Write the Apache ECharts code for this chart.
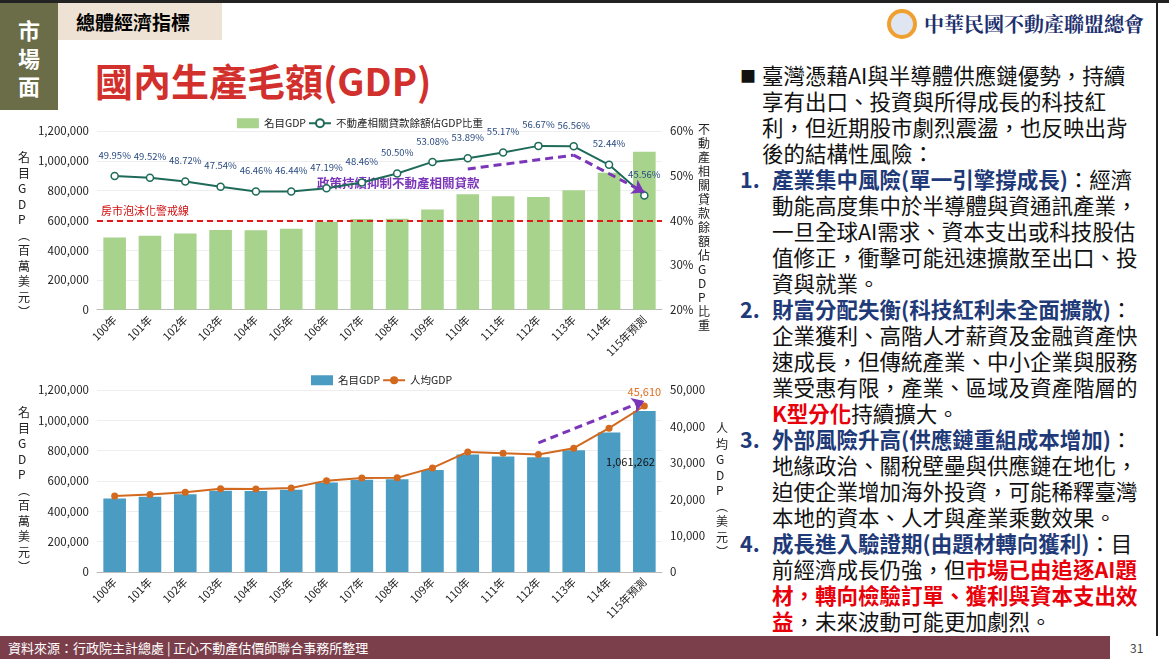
<!DOCTYPE html>
<html><head><meta charset="utf-8">
<script src="https://cdn.jsdelivr.net/npm/echarts@6/dist/echarts.min.js"></script>
<style>
body{margin:0;width:1169px;height:659px;position:relative;overflow:hidden;background:#fff;font-family:"Noto Sans CJK TC","Noto Sans",sans-serif;}
.abs{position:absolute;}
#c1{left:0;top:110px;width:720px;height:250px;}
#c2{left:0;top:365px;width:736px;height:270px;}
.rt{left:740px;top:62px;width:418px;font-size:21.5px;line-height:26px;color:#111;white-space:nowrap}
.item{display:flex;}
.num{width:32px;flex:none;font-weight:bold;color:#1f3a78;}
.hd{font-weight:bold;color:#1f3a78;}
.red{color:#e8000b;font-weight:bold;}
</style></head><body>
<div class="abs" style="left:0;top:0;width:1169px;height:3px;background:#222"></div>
<div class="abs" style="left:1156px;top:0;width:2px;height:636px;background:#222"></div>
<div class="abs" style="left:0;top:3px;width:58px;height:107px;background:#6b6c48;color:#fff;font-weight:bold;font-size:22px;line-height:28px;text-align:center;padding-top:12px;box-sizing:border-box">市<br>場<br>面</div>
<div class="abs" style="left:58px;top:3px;width:164px;height:37px;background:#eee2d4;font-weight:bold;font-size:19px;line-height:37px;padding-left:18px;box-sizing:border-box">總體經濟指標</div>
<div class="abs" style="left:95px;top:55px;font-weight:bold;font-size:38px;color:#d2302c;line-height:50px">國內生產毛額(GDP)</div>
<div class="abs" style="left:887px;top:9px;width:30px;height:30px;border-radius:50%;border:4px solid #f0a030;box-sizing:border-box;background:#dfe6f2"></div>
<div class="abs" style="left:924px;top:9px;white-space:nowrap;font-family:'Noto Serif CJK TC','DejaVu Serif',serif;font-weight:bold;font-size:20px;color:#1d2f6e;">中華民國不動產聯盟總會</div>
<div id="c1" class="abs"></div>
<div id="c2" class="abs"></div>
<div class="abs rt">
<div class="item"><span style="width:22px;flex:none;font-size:16px">■</span><span>臺灣憑藉AI與半導體供應鏈優勢，持續<br>享有出口、投資與所得成長的科技紅<br>利，但近期股市劇烈震盪，也反映出背<br>後的結構性風險：</span></div>
<div class="item"><span class="num">1.</span><span><span class="hd">產業集中風險(單一引擎撐成長)</span>：經濟<br>動能高度集中於半導體與資通訊產業，<br>一旦全球AI需求、資本支出或科技股估<br>值修正，衝擊可能迅速擴散至出口、投<br>資與就業。</span></div>
<div class="item"><span class="num">2.</span><span><span class="hd">財富分配失衡(科技紅利未全面擴散)</span>：<br>企業獲利、高階人才薪資及金融資產快<br>速成長，但傳統產業、中小企業與服務<br>業受惠有限，產業、區域及資產階層的<br><span class="red">K型分化</span>持續擴大。</span></div>
<div class="item"><span class="num">3.</span><span><span class="hd">外部風險升高(供應鏈重組成本增加)</span>：<br>地緣政治、關稅壁壘與供應鏈在地化，<br>迫使企業增加海外投資，可能稀釋臺灣<br>本地的資本、人才與產業乘數效果。</span></div>
<div class="item"><span class="num">4.</span><span><span class="hd">成長進入驗證期(由題材轉向獲利)</span>：目<br>前經濟成長仍強，但<span class="red">市場已由追逐AI題<br>材，轉向檢驗訂單、獲利與資本支出效<br>益</span>，未來波動可能更加劇烈。</span></div>
</div>
<div class="abs" style="left:0;top:636px;width:1110px;height:23px;background:#7b3f4c;color:#fff;font-size:13px;line-height:23px;padding-left:8px;box-sizing:border-box">資料來源：行政院主計總處 | 正心不動產估價師聯合事務所整理</div>
<div class="abs" style="left:1130px;top:636px;font-size:12px;line-height:23px;color:#444">31</div>
<script>
const years=['100年','101年','102年','103年','104年','105年','106年','107年','108年','109年','110年','111年','112年','113年','114年','115年預測'];
const gdp=[485000,496000,512000,535000,534000,543000,590000,609000,611000,673000,775000,762000,756000,802000,920000,1061262];
const ratio=[49.95,49.52,48.72,47.54,46.46,46.44,47.19,48.46,50.50,53.08,53.89,55.17,56.67,56.56,52.44,45.56];
const perCap=[20900,21300,21900,22900,22800,23100,25100,25800,25900,28600,33000,32600,32300,34000,39500,45610];
const ff='"Noto Sans CJK TC",sans-serif';
const vtext=s=>s.split('').join('\n');
function xAxis(){return {type:'category',data:years,axisTick:{show:false},axisLine:{lineStyle:{color:'#bbb'}},axisLabel:{rotate:45,fontSize:11,color:'#222',interval:0,margin:8}};}
function yAxisL(){return {type:'value',min:0,max:1200000,interval:200000,axisLabel:{fontSize:11.5,color:'#222',formatter:v=>v.toLocaleString('en-US')},splitLine:{lineStyle:{color:'#eee'}}};}
const purple='#7b35b8';
const c1=echarts.init(document.getElementById('c1'));
c1.setOption({
 textStyle:{fontFamily:ff},
 grid:{left:97,right:58,top:21,bottom:50},
 legend:{top:3,left:'center',itemGap:2,itemWidth:22,itemHeight:10,textStyle:{fontSize:10.5,color:'#222'},data:[{name:'名目GDP',icon:'rect'},'不動產相關貸款餘額佔GDP比重']},
 xAxis:xAxis(),
 yAxis:[yAxisL(),{type:'value',min:20,max:60,interval:10,axisLabel:{fontSize:11.5,color:'#222',formatter:'{value}%'},splitLine:{show:false}}],
 graphic:[
  {type:'text',left:18,top:40,style:{text:vtext('名目GDP')+'\n︵\n'+vtext('百萬美元')+'\n︶',font:'12px '+ff,fill:'#222',lineHeight:15.5,align:'center'}},
  {type:'text',left:698,top:12,style:{text:vtext('不動產相關貸款餘額佔GDP比重'),font:'12px '+ff,fill:'#222',lineHeight:14}},
  {type:'text',left:317,top:67,style:{text:'政策持續抑制不動產相關貸款',font:'bold 12.5px '+ff,fill:purple}}
 ],
 series:[
  {name:'名目GDP',type:'bar',data:gdp,barWidth:'64%',itemStyle:{color:'#a7d38c'},
   markLine:{silent:true,symbol:'none',data:[{yAxis:600000}],lineStyle:{color:'#e01818',type:[6,4],width:1.8},
    label:{position:'insideStartTop',formatter:'房市泡沫化警戒線',color:'#d01010',fontSize:11,distance:[4,4]}}},
  {name:'不動產相關貸款餘額佔GDP比重',type:'line',yAxisIndex:1,data:ratio,symbol:'circle',symbolSize:7,
   lineStyle:{color:'#1f6b5a',width:2},itemStyle:{color:'#fff',borderColor:'#1f6b5a',borderWidth:1.5},
   label:{show:true,position:'top',distance:12,fontSize:9.5,color:'#2a4a80',formatter:p=>p.value.toFixed(2)+'%'},
   markLine:{silent:true,symbol:['none','arrow'],symbolSize:12,lineStyle:{color:purple,type:[8,5],width:3},label:{show:false},
    data:[[{coord:[10,51.5],symbol:'none'},{coord:[13,54.6],symbol:'none'}],[{coord:[13,54.6]},{coord:[14.75,46.3]}]]}}
 ]
});
const c2=echarts.init(document.getElementById('c2'));
c2.setOption({
 textStyle:{fontFamily:ff},
 grid:{left:97,right:74,top:25,bottom:63},
 legend:{top:5,left:306,itemGap:2,itemWidth:22,itemHeight:10,textStyle:{fontSize:10.5,color:'#222'},data:[{name:'名目GDP',icon:'rect'},'人均GDP']},
 xAxis:xAxis(),
 yAxis:[yAxisL(),{type:'value',min:0,max:50000,interval:10000,axisLabel:{fontSize:11.5,color:'#222',formatter:v=>v.toLocaleString('en-US')},splitLine:{show:false}}],
 graphic:[
  {type:'text',left:18,top:40,style:{text:vtext('名目GDP')+'\n︵\n'+vtext('百萬美元')+'\n︶',font:'12px '+ff,fill:'#222',lineHeight:15.5,align:'center'}},
  {type:'text',left:716,top:56,style:{text:vtext('人均GDP')+'\n︵\n'+vtext('美元')+'\n︶',font:'12px '+ff,fill:'#222',lineHeight:15.5}}
 ],
 series:[
  {name:'名目GDP',type:'bar',data:gdp,barWidth:'64%',itemStyle:{color:'#4a9cc2'},
   label:{show:true,position:[-27,45],fontSize:11,color:'#111',formatter:p=>p.dataIndex===15?p.value.toLocaleString('en-US'):''}},
  {name:'人均GDP',type:'line',yAxisIndex:1,data:perCap,symbol:'circle',symbolSize:7,
   lineStyle:{color:'#d2691e',width:2},itemStyle:{color:'#d2691e'},
   label:{show:true,position:'top',fontSize:11,color:'#e07020',formatter:p=>p.dataIndex===15?p.value.toLocaleString('en-US'):''},
   markLine:{silent:true,symbol:['none','arrow'],symbolSize:12,lineStyle:{color:purple,type:[8,5],width:3},label:{show:false},
    data:[[{coord:[12,35500]},{coord:[14.6,47000]}]]}}
 ]
});
</script>
</body></html>
